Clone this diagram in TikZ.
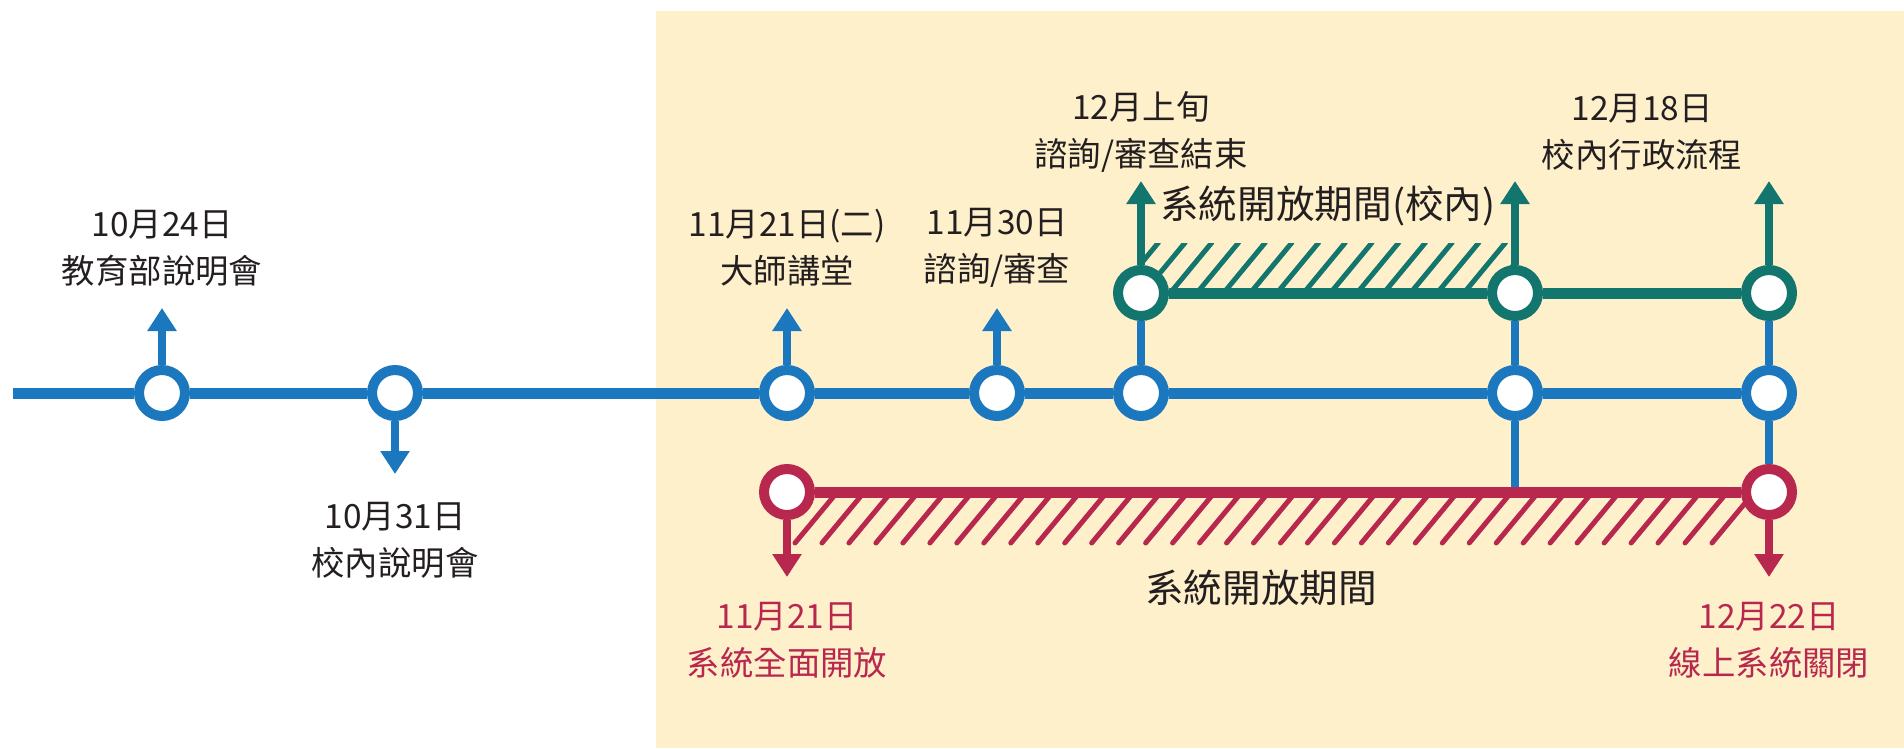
\documentclass[tikz,border=0pt]{standalone}
\usepackage{fontspec}
\setmainfont{Noto Sans CJK TC}
\usetikzlibrary{arrows.meta}
\definecolor{line_blue}{RGB}{27,120,190}
\definecolor{line_teal}{RGB}{18,117,110}
\definecolor{line_red}{RGB}{184,40,78}
\definecolor{bg_yellow}{RGB}{255,240,204}
\definecolor{text_dark}{RGB}{35,31,32}

\begin{document}
\begin{tikzpicture}[x=0.02cm,y=-0.02cm]
    \tikzstyle{ring}=[circle, draw, fill=white, line width=0.2cm, minimum size=0.92cm, inner sep=0pt]
    \tikzstyle{bl}=[style=ring, draw=line_blue]
    \tikzstyle{tl}=[style=ring, draw=line_teal]
    \tikzstyle{rd}=[style=ring, draw=line_red]
    \tikzstyle{txt}=[align=center, text=text_dark, font=\fontsize{19}{26.6}\selectfont]
    \tikzstyle{redtxt}=[style=txt, text=line_red]
    \tikzstyle{big}=[text=text_dark, font=\fontsize{22}{26}\selectfont]
    \tikzstyle{arr}=[line width=0.16cm, -{Triangle[width=0.56cm,length=0.46cm]}]
    \tikzstyle{hatch}=[line width=0.1cm]

    \useasboundingbox (0,0) rectangle (1904,748);
    \fill[bg_yellow] (656,11) rectangle (1904,748);

    % hatching
    \begin{scope}
      \clip (1141,243) rectangle (1515,288);
      \foreach \i in {-7,...,9}
        \draw[hatch, line_teal] (1277.8+\i*26.7,292) -- ++(41.3,-50);
    \end{scope}
    \foreach \i in {0,...,34}
      \draw[hatch, line_red, line cap=round] (795+\i*26.97,543) -- ++(39,-47);

    \node[bl] (b1) at (162,393)  {};
    \node[bl] (b2) at (395,393)  {};
    \node[bl] (b3) at (787,393)  {};
    \node[bl] (b4) at (997,393)  {};
    \node[bl] (b5) at (1141,393) {};
    \node[bl] (b6) at (1515,393) {};
    \node[bl] (b7) at (1769,393) {};
    \node[tl] (t1) at (1141,293) {};
    \node[tl] (t2) at (1515,293) {};
    \node[tl] (t3) at (1769,293) {};
    \node[rd] (r1) at (787,492)  {};
    \node[rd] (r2) at (1769,492) {};

    \coordinate (start) at (13,393);
    \coordinate (j1) at (1515,492);
    \coordinate (a1) at (162,308);
    \coordinate (a2) at (395,474);
    \coordinate (a3) at (787,308);
    \coordinate (a4) at (997,308);
    \coordinate (a5) at (1141,181);
    \coordinate (a6) at (1515,181);
    \coordinate (a7) at (1769,181);
    \coordinate (a8) at (787,577);
    \coordinate (a9) at (1769,577);

    \draw[line_blue, line width=0.22cm] (start) -- (b1) -- (b2) -- (b3) -- (b4) -- (b5) -- (b6) -- (b7);
    \draw[line_teal, line width=0.22cm] (t1) -- (t2) -- (t3);
    \draw[line_blue, line width=0.16cm] (b5) -- (t1) (b6) -- (t2) (b6) -- (j1) (b7) -- (t3) (b7) -- (r2);
    \draw[line_red, line width=0.22cm] (r1) -- (r2);

    \draw[arr, line_blue] (b1) -- (a1);
    \draw[arr, line_blue] (b2) -- (a2);
    \draw[arr, line_blue] (b3) -- (a3);
    \draw[arr, line_blue] (b4) -- (a4);
    \draw[arr, line_teal] (t1) -- (a5);
    \draw[arr, line_teal] (t2) -- (a6);
    \draw[arr, line_teal] (t3) -- (a7);
    \draw[arr, line_red] (r1) -- (a8);
    \draw[arr, line_red] (r2) -- (a9);

    \node[txt] (l1) at (162,248)  {10月24日\\教育部說明會};
    \node[txt] (l2) at (395,540)  {10月31日\\校內說明會};
    \node[txt] (l3) at (787,248)  {11月21日(二)\\大師講堂};
    \node[txt] (l4) at (997,248)  {11月30日\\諮詢/審查};
    \node[txt] (l5) at (1141,132) {12月上旬\\諮詢/審查結束};
    \node[txt] (l6) at (1642,132) {12月18日\\校內行政流程};
    \node[big] (p1) at (1328,206) {系統開放期間(校內)};
    \node[big] (p2) at (1261,588) {系統開放期間};
    \node[redtxt] (l7) at (787,640)  {11月21日\\系統全面開放};
    \node[redtxt] (l8) at (1769,640) {12月22日\\線上系統關閉};
\end{tikzpicture}
\end{document}
